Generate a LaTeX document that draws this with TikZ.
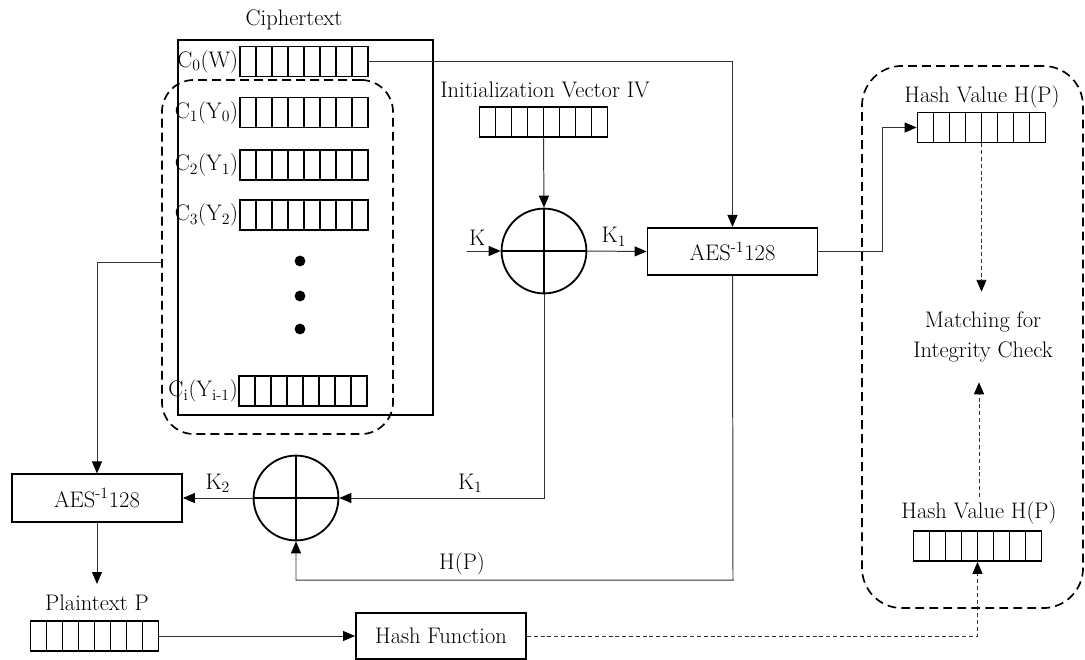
\documentclass[tikz,border=0pt]{standalone}
\usepackage{tikz}
\usetikzlibrary{arrows.meta,positioning,calc}

\begin{document}
\begin{tikzpicture}[
  x=0.025cm, y=-0.025cm,
  every node/.style={font=\fontsize{16}{19}\selectfont},
  box/.style={
    draw,
    line width=1.3pt,
    minimum width=4.25cm,
    minimum height=1.18cm,
    inner sep=0pt
  },
  register/.style={
    draw,
    line width=1.2pt,
    minimum width=3.2cm,
    minimum height=0.75cm,
    inner sep=0pt,
    path picture={
      \foreach \i in {1,...,7}
        \draw[line width=1.2pt] ([xshift=\i*0.4cm]path picture bounding box.south west)
          -- ([xshift=\i*0.4cm]path picture bounding box.north west);
    }
  },
  xor/.style={
    circle,
    draw,
    line width=1.3pt,
    minimum size=2.12cm,
    inner sep=0pt,
    path picture={
      \draw[line width=1.3pt] (path picture bounding box.north) -- (path picture bounding box.south)
        (path picture bounding box.west) -- (path picture bounding box.east);
    }
  },
  group/.style={
    draw,
    line width=1.2pt,
    dash pattern=on 0.22cm off 0.13cm,
    rounded corners=0.8cm,
    inner sep=0pt
  },
  conn/.style={
    draw=black!80,
    line width=0.7pt,
    -{Triangle[length=0.3cm,width=0.25cm,color=black]}
  },
  dconn/.style={conn, dash pattern=on 0.1cm off 0.07cm},
  dot/.style={circle, fill, inner sep=0pt, minimum width=0.24cm, minimum height=0.27cm}
]
\useasboundingbox (0,0) rectangle (1085,659);

% -------- Ciphertext --------
\node (ctlbl) at (294,20) {Ciphertext};
\node[draw, line width=1.3pt, minimum width=6.375cm, minimum height=9.375cm] (ct) at (305.5,227.5) {};
\node[register] (c0) at (304,61.5) {};
\node[register] (c1) at (304,112.5) {};
\node[register] (c2) at (304,165) {};
\node[register] (c3) at (304,215) {};
\node[register] (ci) at (303,391) {};
\node[left=0pt of c0, inner sep=0.5pt] {C\textsubscript{0}(W)};
\node[left=0pt of c1, inner sep=0.5pt] {C\textsubscript{1}(Y\textsubscript{0})};
\node[left=0pt of c2, inner sep=0.5pt] {C\textsubscript{2}(Y\textsubscript{1})};
\node[left=0pt of c3, inner sep=0.5pt] {C\textsubscript{3}(Y\textsubscript{2})};
\node[left=0pt of ci, inner sep=0pt] {C\textsubscript{i}(Y\textsubscript{i-1})};
\node[dot] (d1) at (300,261) {};
\node[dot] (d2) at (300,296) {};
\node[dot] (d3) at (300,329) {};
\node[group, minimum width=5.775cm, minimum height=8.85cm] (grp) at (277.5,257) {};

% -------- Key side --------
\node (ivlbl) at (545,90) {Initialization Vector IV};
\node[register] (iv) at (543.5,122) {};
\node[xor] (xorU) at (544,251) {};
\node[box] (aesU) at (732.5,251.5) {AES\textsuperscript{-1}128};
\coordinate (kin) at (467,251);

% -------- Lower part --------
\node[box] (aesL) at (97,498) {AES\textsuperscript{-1}128};
\node[xor] (xorL) at (296,498) {};
\coordinate (ptin) at (97,584);
\node (ptlbl) at (97,603) {Plaintext P};
\node[register] (pt) at (94.5,636) {};
\node[box, minimum height=1.15cm] (hashf) at (441,636) {Hash Function};
\coordinate (hpturn) at (733,580);

% -------- Integrity check --------
\node[group, rounded corners=1cm, minimum width=5.525cm, minimum height=13.55cm] (chk) at (972.5,337) {};
\node (hv1lbl) at (982,97) {Hash Value H(P)};
\node[register] (hv1) at (981.5,127.5) {};
\node[align=center, font=\fontsize{16}{21}\selectfont, inner sep=0.5cm] (match) at (983,337) {Matching for\\Integrity Check};
\node (hv2lbl) at (979,513) {Hash Value H(P)};
\node[register] (hv2) at (977.5,546) {};

% -------- Connectors --------
\draw[conn] (c0.east) -| (aesU.north);
\draw[conn] (iv.south) -- (xorU.north);
\draw[conn] (kin) -- node[above, pos=0.3] {K} (xorU.west);
\draw[conn] (xorU.east) -- node[above, pos=0.45] {K\textsubscript{1}} (aesU.west);
\draw[conn] (aesU.east) -- ++(64,0) |- (hv1.west);
\draw[conn] (xorU.south) |- node[above, pos=0.68] {K\textsubscript{1}} (xorL.east);
\draw[conn] (xorL.west) -- node[above] {K\textsubscript{2}} (aesL.east);
\draw[conn] (aesU.south) -- (hpturn) -| node[above, pos=0.31] {H(P)} (xorL.south);
\draw[conn] ([yshift=-0.13cm]grp.west) -| (aesL.north);
\draw[conn] (aesL.south) -- (ptin);
\draw[conn] (pt.east) -- (hashf.west);
\draw[dconn] (hashf.east) -| (hv2.south);
\draw[dconn] (hv1.south) -- (hv1.south |- match.north);
\draw[dconn] (hv2lbl.north) -- (hv2lbl.north |- match.south);

\end{tikzpicture}
\end{document}
